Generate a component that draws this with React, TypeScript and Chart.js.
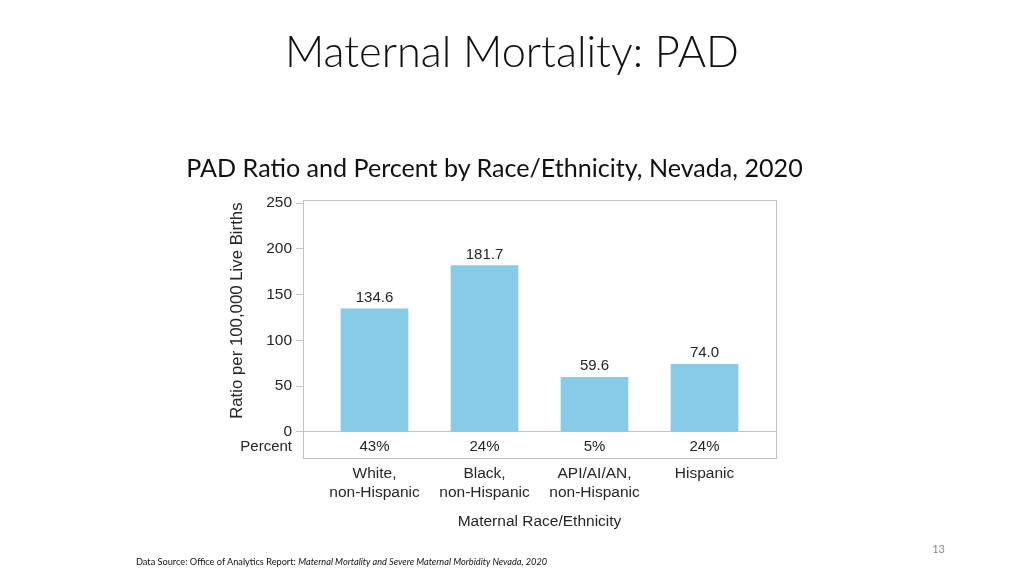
import React, { useEffect, useRef } from "react";
import { Chart, registerables } from "chart.js";

Chart.register(...registerables);

const categories: string[][] = [
  ["White,", "non-Hispanic"],
  ["Black,", "non-Hispanic"],
  ["API/AI/AN,", "non-Hispanic"],
  ["Hispanic"],
];
const ratioValues = [134.6, 181.7, 59.6, 74.0];
const ratioLabels = ["134.6", "181.7", "59.6", "74.0"];
const percentLabels = ["43%", "24%", "5%", "24%"];
const yTicks = [0, 50, 100, 150, 200, 250];

const pageTitle = "Maternal Mortality: PAD";
const chartTitle = "PAD Ratio and Percent by Race/Ethnicity, Nevada, 2020";
const yAxisTitle = "Ratio per 100,000 Live Births";
const xAxisTitle = "Maternal Race/Ethnicity";
const percentRowLabel = "Percent";
const sourceLead = "Data Source: Office of Analytics Report: ";
const sourceItalic = "Maternal Mortality and Severe Maternal Morbidity Nevada, 2020";
const pageNumber = "13";

const CHART_FONT = "'Liberation Sans', Arial, sans-serif";
const SLIDE_FONT = "Lato, 'Open Sans', sans-serif";
const BAR_COLOR = "#87cbe8";
const TEXT_COLOR = "#262626";
const FRAME_COLOR = "#c4c4c4";

const overlayPlugin = {
  id: "overlay",
  afterDatasetsDraw(chart: any) {
    const { ctx, chartArea, scales } = chart;
    const x = scales.x;
    const y = scales.y;
    const zeroY = y.getPixelForValue(0);
    ctx.save();
    // frame
    ctx.strokeStyle = FRAME_COLOR;
    ctx.lineWidth = 1;
    ctx.strokeRect(
      Math.round(chartArea.left) + 0.5,
      Math.round(chartArea.top) + 0.5,
      Math.round(chartArea.right - chartArea.left),
      Math.round(chartArea.bottom - chartArea.top)
    );
    // value labels
    const meta = chart.getDatasetMeta(0);
    ctx.fillStyle = TEXT_COLOR;
    ctx.font = `15px ${CHART_FONT}`;
    ctx.textAlign = "center";
    ctx.textBaseline = "alphabetic";
    meta.data.forEach((bar: any, i: number) => {
      ctx.fillText(ratioLabels[i], bar.x, bar.y - 7);
    });
    // percent row
    const rowY = (zeroY + chartArea.bottom) / 2 + 6;
    percentLabels.forEach((p, i) => {
      ctx.fillText(p, x.getPixelForValue(i), rowY);
    });
    ctx.textAlign = "right";
    ctx.fillText(percentRowLabel, y.right - 11, rowY);
    // y axis title (rotated)
    ctx.save();
    ctx.font = `16.8px ${CHART_FONT}`;
    ctx.textAlign = "center";
    ctx.textBaseline = "middle";
    ctx.translate(y.left + 18, y.getPixelForValue(132.5));
    ctx.rotate(-Math.PI / 2);
    ctx.fillText(yAxisTitle, 0, 0);
    ctx.restore();
    ctx.restore();
  },
};

export default function App() {
  const canvasRef = useRef<HTMLCanvasElement | null>(null);

  useEffect(() => {
    document.body.style.margin = "0";
    const canvas = canvasRef.current;
    if (!canvas) return;
    const chart = new Chart(canvas, {
      type: "bar",
      data: {
        datasets: [
          {
            data: ratioValues.map((v, i) => ({ x: i, y: v })),
            backgroundColor: BAR_COLOR,
            borderWidth: 0,
            barThickness: 67,
          },
        ],
      },
      options: {
        responsive: false,
        animation: false,
        layout: { padding: { left: 219, right: 248, top: 200, bottom: 30 } },
        plugins: {
          legend: { display: false },
          tooltip: { enabled: false },
          title: { display: false },
        },
        scales: {
          x: {
            type: "linear",
            offset: false,
            min: -0.65,
            max: 3.65,
            afterBuildTicks: (scale: any) => {
              scale.ticks = categories.map((_, i) => ({ value: i }));
            },
            afterFit: (scale: any) => {
              scale.height = 88;
            },
            grid: { display: false, drawTicks: false, offset: false },
            border: { display: false },
            ticks: {
              padding: 6,
              color: TEXT_COLOR,
              font: { family: CHART_FONT, size: 15.5, lineHeight: 1.25 },
              maxRotation: 0,
              autoSkip: false,
              callback: (v: any) => categories[Number(v)] ?? "",
            },
            title: {
              display: true,
              text: xAxisTitle,
              color: TEXT_COLOR,
              font: { family: CHART_FONT, size: 15.5 },
              padding: { top: 0, bottom: 15 },
            },
          },
          y: {
            type: "linear",
            min: -28.4,
            max: 253.3,
            afterBuildTicks: (scale: any) => {
              scale.ticks = yTicks.map((v) => ({ value: v }));
            },
            afterFit: (scale: any) => {
              scale.width = 84;
            },
            border: { display: false },
            grid: {
              color: (c: any) => (c.tick && c.tick.value === 0 ? FRAME_COLOR : "rgba(0,0,0,0)"),
              tickColor: FRAME_COLOR,
              tickLength: 7,
              drawOnChartArea: true,
            },
            ticks: {
              padding: 4,
              color: TEXT_COLOR,
              font: { family: CHART_FONT, size: 15.5 },
            },
            title: { display: false },
          },
        },
      },
      plugins: [overlayPlugin],
    } as any);
    return () => chart.destroy();
  }, []);

  return (
    <div style={{ position: "relative", width: 1024, height: 576, background: "#ffffff", overflow: "hidden" }}>
      <canvas ref={canvasRef} width={1024} height={576} style={{ position: "absolute", left: 0, top: 0, width: 1024, height: 576 }} />
      <svg width={1024} height={576} style={{ position: "absolute", left: 0, top: 0, pointerEvents: "none" }}>
        <text x={512} y={67} textAnchor="middle" fontFamily={SLIDE_FONT} fontWeight={300} fontSize={43.3} fill="#111">
          {pageTitle}
        </text>
        <text x={494.5} y={177} textAnchor="middle" fontFamily={SLIDE_FONT} fontSize={25.1} fill="#111">
          {chartTitle}
        </text>
        <text x={136} y={565} fontFamily={SLIDE_FONT} fontSize={9.2} fill="#111">
          {sourceLead}
          <tspan fontStyle="italic">{sourceItalic}</tspan>
        </text>
        <text x={945} y={553} textAnchor="end" fontFamily={SLIDE_FONT} fontSize={11} fill="#8a8a8a">
          {pageNumber}
        </text>
      </svg>
    </div>
  );
}
